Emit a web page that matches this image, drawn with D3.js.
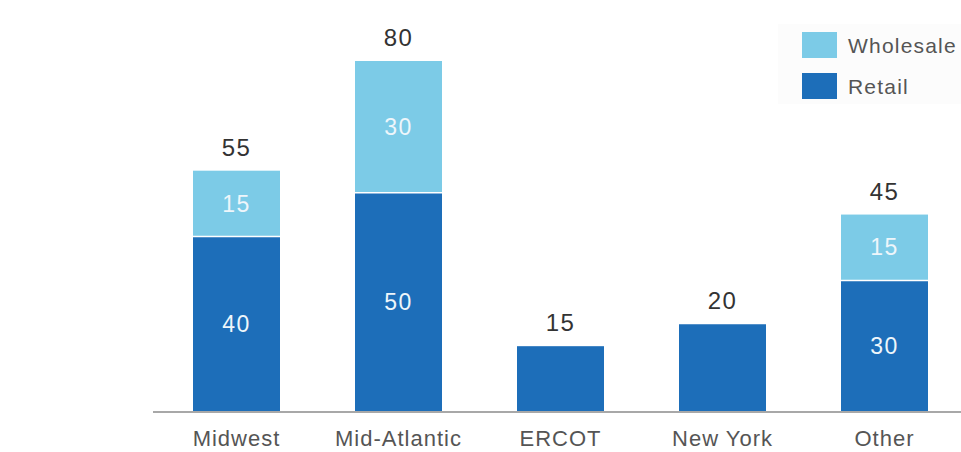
<!DOCTYPE html>
<html><head><meta charset="utf-8">
<script src="https://cdn.jsdelivr.net/npm/d3@7"></script>
<style>
html,body{margin:0;padding:0;background:#fff;}
svg{display:block;font-family:"Liberation Sans",Arial,sans-serif;}
</style></head>
<body>
<svg id="chart" width="961" height="452"></svg>
<script>
const categories = ["Midwest","Mid-Atlantic","ERCOT","New York","Other"];
const retail = [40,50,15,20,30];
const wholesale = [15,30,0,0,15];
const seriesNames = ["Wholesale","Retail"];
const colors = {Retail:"#1d6eb9", Wholesale:"#7ccbe7"};

const svg = d3.select("#chart");
const baseY = 412, topY = 61;

const x = d3.scaleBand().domain(categories).range([155.5,965.5])
  .paddingInner(0.463).paddingOuter(0.2315).align(0.5);
const y = d3.scaleLinear().domain([0,80]).range([baseY, topY]);

const rows = categories.map((c,i)=>({cat:c, Retail:retail[i], Wholesale:wholesale[i]}));
const stack = d3.stack().keys(["Retail","Wholesale"]);
const layers = stack(rows);

// legend background
svg.append("rect").attr("x",778).attr("y",24).attr("width",183).attr("height",80).attr("fill","#fcfcfc");

layers.forEach(layer=>{
  svg.append("g").selectAll("rect").data(layer.filter(d=>d[1]>d[0])).join("rect")
    .attr("x",d=>x(d.data.cat))
    .attr("width",x.bandwidth())
    .attr("y",d=>y(d[1]))
    .attr("height",d=>y(d[0])-y(d[1]))
    .attr("fill",colors[layer.key]);
});
// separators between segments
svg.append("g").selectAll("line").data(rows.filter(r=>r.Wholesale>0)).join("line")
  .attr("x1",d=>x(d.cat)).attr("x2",d=>x(d.cat)+x.bandwidth())
  .attr("y1",d=>y(d.Retail)).attr("y2",d=>y(d.Retail))
  .attr("stroke","#ffffff").attr("stroke-width",1.5);

// in-bar labels
layers.forEach(layer=>{
  svg.append("g").selectAll("text").data(layer.filter(d=>d.data.Wholesale>0 && d[1]>d[0])).join("text")
    .attr("x",d=>x(d.data.cat)+x.bandwidth()/2)
    .attr("y",d=>(y(d[0])+y(d[1]))/2)
    .attr("text-anchor","middle").attr("dominant-baseline","central")
    .attr("font-size",23).attr("letter-spacing",1.5)
    .attr("fill","#eef6fb")
    .text(d=>d[1]-d[0]);
});

// totals
svg.append("g").selectAll("text").data(rows).join("text")
  .attr("x",d=>x(d.cat)+x.bandwidth()/2)
  .attr("y",d=>y(d.Retail+d.Wholesale)-15)
  .attr("text-anchor","middle")
  .attr("font-size",24).attr("letter-spacing",1.5)
  .attr("fill","#333")
  .text(d=>d.Retail+d.Wholesale);

// axis
const xAxis = d3.axisBottom(x).tickSize(0).tickPadding(18);
const gx = svg.append("g").attr("transform",`translate(0,${baseY})`).call(xAxis);
gx.select(".domain").attr("d",`M153,0H961`).attr("stroke","#a8a8a8").attr("stroke-width",2);
gx.selectAll(".tick text").attr("font-size",22).attr("letter-spacing",1).attr("fill","#555")
  .attr("font-family","'Liberation Sans',Arial,sans-serif");

// legend
const leg = svg.append("g");
seriesNames.forEach((s,i)=>{
  const g = leg.append("g").attr("transform",`translate(802,${32+i*41})`);
  g.append("rect").attr("width",35).attr("height",26).attr("fill",colors[s]);
  g.append("text").attr("x",46).attr("y",13).attr("dominant-baseline","central")
    .attr("font-size",21).attr("letter-spacing",1.2).attr("fill","#555").text(s);
});
</script>
</body></html>
